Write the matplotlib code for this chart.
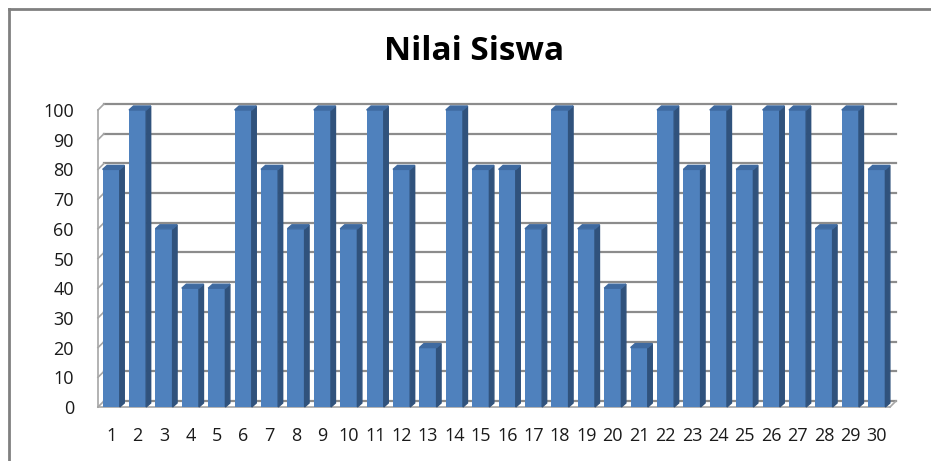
import matplotlib.pyplot as plt
from matplotlib.patches import Polygon
from matplotlib.lines import Line2D

# nilai tiap siswa
siswa = list(range(1, 31))
nilai = [80, 100, 60, 40, 40, 100, 80, 60, 100, 60,
         100, 80, 20, 100, 80, 80, 60, 100, 60, 40,
         20, 100, 80, 100, 80, 100, 100, 60, 100, 80]
yticks = list(range(0, 101, 10))

W, H = 931, 461
fig = plt.figure(figsize=(W / 100, H / 100), dpi=100)

# plot area in pixels
left, right, bottom, top = 98, 890, 407, 110
ax = fig.add_axes([left / W, (H - bottom) / H, (right - left) / W, (bottom - top) / H])
ax.set_xlim(0.5, 30.5)
ax.set_ylim(0, 100)
ax.axis('off')

# pixel -> data units
px_x = 30.0 / (right - left)
px_y = 100.0 / (bottom - top)

grid = '#8c8c8c'
# back wall offset
wx, wy = 6 * px_x, 6 * px_y
for v in yticks:
    ax.add_line(Line2D([0.5 + wx, 30.5 + wx], [v + wy, v + wy], color=grid, lw=1.6, zorder=1, clip_on=False))
    ax.add_line(Line2D([0.5, 0.5 + wx], [v, v + wy], color='#a6a6a6', lw=1.2, zorder=1, clip_on=False))
ax.add_line(Line2D([0.5, 0.5], [0, 100], color='#a6a6a6', lw=1.2, zorder=1, clip_on=False))
ax.add_line(Line2D([0.5, 30.5], [0, 0], color='#a6a6a6', lw=1.2, zorder=1, clip_on=False))
ax.add_line(Line2D([30.5, 30.5 + wx], [0, wy], color='#a6a6a6', lw=1.2, zorder=1, clip_on=False))

# bars with fake 3d faces
bw = 0.65
dx, dy = 4.5 * px_x, 4 * px_y
for x, v in zip(siswa, nilai):
    x0, x1 = x - bw / 2, x + bw / 2
    ax.bar(x, v, width=bw, color='#4f81bd', zorder=3, clip_on=False)
    side = Polygon([(x1, 0), (x1 + dx, dy), (x1 + dx, v + dy), (x1, v)],
                   closed=True, color='#30527c', zorder=3, clip_on=False)
    topf = Polygon([(x0, v), (x0 + dx, v + dy), (x1 + dx, v + dy), (x1, v)],
                   closed=True, color='#3f6aa0', zorder=3, clip_on=False)
    ax.add_patch(side)
    ax.add_patch(topf)

# labels
for v in yticks:
    ax.text(0.5 - 24 * px_x, v - 2 * px_y, str(v), ha='right', va='center',
            fontsize=13, family='Open Sans', color='#1a1a1a')
for x in siswa:
    ax.text(x, -29 * px_y, str(x), ha='center', va='center',
            fontsize=13, family='Open Sans', color='#1a1a1a')

fig.text(474 / W, 1 - 51 / H, 'Nilai Siswa', ha='center', va='center',
         fontsize=24, fontweight='bold', family='Open Sans')

# chart border (top and left)
fig.add_artist(Line2D([9 / W, 1], [1 - 9 / H, 1 - 9 / H], color='#808080', lw=2, transform=fig.transFigure))
fig.add_artist(Line2D([9 / W, 9 / W], [0, 1 - 9 / H], color='#808080', lw=2, transform=fig.transFigure))

fig.savefig('out.png', dpi=100)
